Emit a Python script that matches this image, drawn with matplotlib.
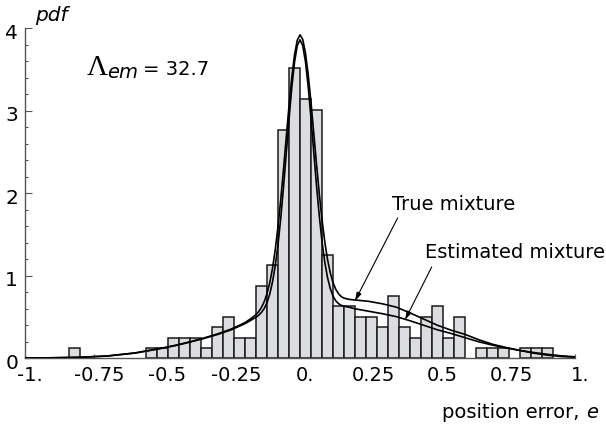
import numpy as np
import matplotlib
matplotlib.use("Agg")
import matplotlib.pyplot as plt
from matplotlib.transforms import ScaledTranslation

# ---------------- data ----------------
bin_width = 0.04
bin_start = -0.84
counts = [1, 0, 0, 0, 0, 0, 0, 1, 1, 2, 2, 2, 1, 3, 4, 2, 2, 7, 9, 22, 28, 25, 24,
          10, 5, 5, 4, 4, 3, 6, 3, 2, 4, 5, 2, 4, 0, 1, 1, 1, 0, 1, 1, 1]

curve_x = [-1.0, -0.9, -0.8, -0.7, -0.6, -0.55, -0.5, -0.45, -0.4, -0.35, -0.3, -0.25,
           -0.2, -0.18, -0.16, -0.15, -0.14, -0.13, -0.12, -0.11, -0.1, -0.09, -0.08,
           -0.07, -0.06, -0.05, -0.04, -0.03, -0.02, -0.01, 0.0, 0.01, 0.02, 0.03, 0.04,
           0.05, 0.06, 0.07, 0.08, 0.09, 0.1, 0.11, 0.12, 0.13, 0.14, 0.15, 0.16, 0.18,
           0.2, 0.25, 0.3, 0.35, 0.4, 0.45, 0.5, 0.55, 0.6, 0.65, 0.7, 0.75, 0.8, 0.85,
           0.9, 0.95, 1.0]
true_pdf = [0.003, 0.006, 0.012, 0.028, 0.065, 0.095, 0.125, 0.16, 0.2, 0.245, 0.295, 0.355,
            0.432, 0.478, 0.529, 0.566, 0.618, 0.687, 0.783, 0.914, 1.09, 1.316, 1.596,
            1.924, 2.29, 2.677, 3.058, 3.402, 3.677, 3.855, 3.92, 3.865, 3.697, 3.434, 3.103,
            2.731, 2.355, 1.999, 1.681, 1.414, 1.2, 1.037, 0.918, 0.836, 0.783, 0.748, 0.729, 0.713,
            0.707, 0.69, 0.66, 0.62, 0.55, 0.475, 0.40, 0.34, 0.29, 0.225, 0.17, 0.13, 0.095, 0.062,
            0.038, 0.022, 0.012]
est_pdf = [0.003, 0.006, 0.012, 0.028, 0.063, 0.092, 0.122, 0.156, 0.196, 0.24, 0.288, 0.345,
           0.42, 0.458, 0.498, 0.522, 0.557, 0.604, 0.674, 0.778, 0.925, 1.121, 1.378,
           1.698, 2.072, 2.48, 2.893, 3.276, 3.587, 3.789, 3.86, 3.791, 3.592, 3.285, 2.908,
           2.499, 2.097, 1.73, 1.418, 1.168, 0.98, 0.845, 0.754, 0.697, 0.662, 0.642, 0.631, 0.618,
           0.60, 0.57, 0.54, 0.505, 0.455, 0.40, 0.345, 0.30, 0.25, 0.20, 0.16, 0.125, 0.095, 0.07,
           0.048, 0.03, 0.018]

x_ticks = [-1.0, -0.75, -0.5, -0.25, 0.0, 0.25, 0.5, 0.75, 1.0]
x_tick_labels = ["-1.", "-0.75", "-0.5", "-0.25", "0.", "0.25", "0.5", "0.75", "1."]
y_ticks = [0, 1, 2, 3, 4]
y_tick_labels = ["0", "1", "2", "3", "4"]

# ---------------- figure ----------------
plt.rcParams['font.family'] = ['DejaVu Sans']
fig = plt.figure(figsize=(6.06, 4.31), dpi=100)
ax = fig.add_axes([0.0413, 0.1664, 0.9075, 0.7657])

n_total = sum(counts)
lefts = [bin_start + i * bin_width for i in range(len(counts))]
dens = [c / (n_total * bin_width) for c in counts]
bl = [l for l, d in zip(lefts, dens) if d > 0]
bd = [d for d in dens if d > 0]
ax.bar(bl, bd, width=bin_width, align='edge', color='#dcdde0',
       edgecolor='#1a1a1a', linewidth=1.1, zorder=2)

ax.plot(curve_x, true_pdf, color='black', lw=1.2, zorder=3)
ax.plot(curve_x, est_pdf, color='black', lw=1.2, zorder=3)

ax.set_xlim(-1, 1)
ax.set_ylim(0, 4)
for s in ['top', 'right']:
    ax.spines[s].set_visible(False)
ax.spines['left'].set_color('#555555')
ax.spines['bottom'].set_color('#555555')
ax.spines['left'].set_linewidth(1.0)
ax.spines['bottom'].set_linewidth(1.0)

ax.set_xticks(x_ticks)
ax.set_xticklabels(x_tick_labels, fontsize=14)
ax.set_yticks(y_ticks)
ax.set_yticklabels(y_tick_labels, fontsize=14.5)
ax.set_yticks(np.arange(0, 4.01, 0.2), minor=True)
ax.tick_params(axis='x', direction='in', length=3, width=0.8, pad=5, colors='#555555', labelcolor='black')
ax.tick_params(axis='y', which='major', direction='in', length=5, width=0.8, pad=5, colors='#555555', labelcolor='black')
ax.tick_params(axis='y', which='minor', direction='in', length=2.5, width=0.8, colors='#555555')

xoff = ScaledTranslation(5 / 100, 0, fig.dpi_scale_trans)
for lab in ax.get_xticklabels():
    lab.set_transform(lab.get_transform() + xoff)
yoff = ScaledTranslation(0, -2 / 100, fig.dpi_scale_trans)
for lab in ax.get_yticklabels():
    lab.set_transform(lab.get_transform() + yoff)

# labels
fig.text(35 / 606, 1 - 21 / 431, "pdf", fontsize=14.5, style='italic', va='baseline', ha='left')
pe = fig.text(442 / 606, 1 - 418 / 431, "position error, ", fontsize=14, va='baseline', ha='left')

fig.text(87 / 606, 1 - 75 / 431, "\u039b", fontsize=21, family='Liberation Serif', va='baseline', ha='left')
fig.text(107 / 606, 1 - 78 / 431, "em", fontsize=14, style='italic', va='baseline', ha='left')
fig.text(143 / 606, 1 - 75 / 431, "= 32.7", fontsize=14, va='baseline', ha='left')

fig.canvas.draw()
bb = pe.get_window_extent()
fig.text(bb.x1 / fig.bbox.width, 1 - 418 / 431, "e", fontsize=14, style='italic', va='baseline', ha='left')

ax.text(0.333, 1.88, "True mixture", fontsize=14, ha='left', va='center')
ax.text(0.455, 1.30, "Estimated mixture", fontsize=14, ha='left', va='center', clip_on=False)
arrow = dict(arrowstyle='-|>,head_length=0.5,head_width=0.15', lw=0.8, color='black',
             shrinkA=0, shrinkB=0)
ax.annotate("", xy=(0.2, 0.695), xytext=(0.355, 1.70), arrowprops=arrow)
ax.annotate("", xy=(0.382, 0.465), xytext=(0.479, 1.107), arrowprops=arrow)

fig.savefig("out.png", dpi=100)
